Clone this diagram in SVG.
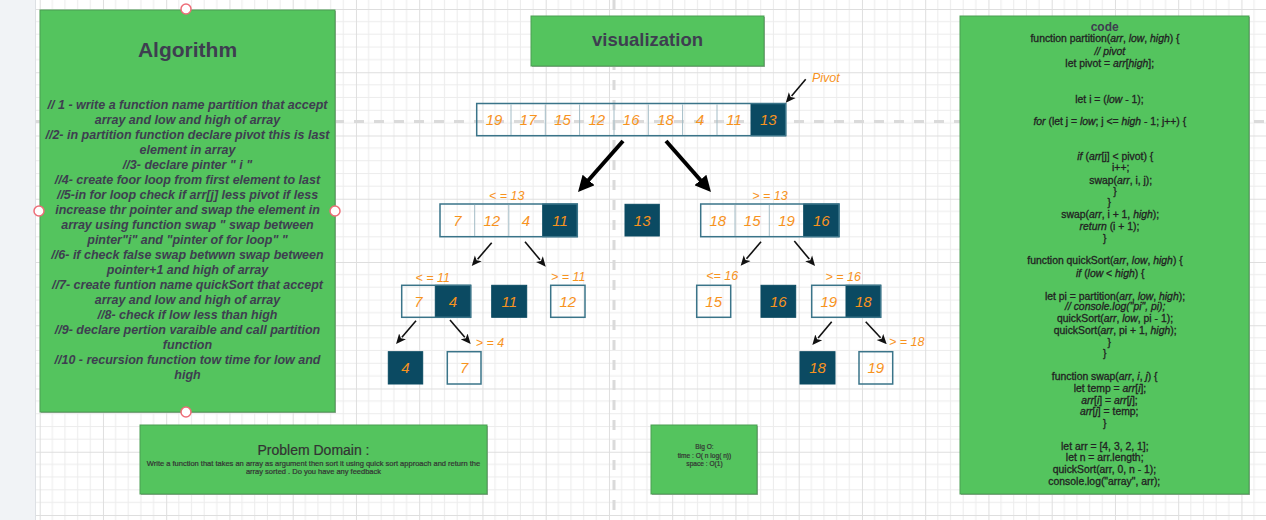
<svg xmlns="http://www.w3.org/2000/svg" width="1266" height="520" viewBox="0 0 1266 520">
<style>
.box{fill:#54c45e;stroke:#4a9e52;stroke-width:1}
.shadow{fill:#a9a9a9}
.alg{font-family:"Liberation Sans",Arial,sans-serif;font-size:12.5px;font-weight:bold;font-style:italic;fill:#3e3e50;text-anchor:middle}
.title{font-family:"Liberation Sans",Arial,sans-serif;font-weight:bold;fill:#3e3e50;text-anchor:middle}
.code{font-family:"Liberation Sans",Arial,sans-serif;font-size:10.4px;fill:#222;stroke:#222;stroke-width:0.3;text-anchor:middle}
.it{font-style:italic}
.num{font-family:"Liberation Sans",Arial,sans-serif;font-size:15px;font-style:italic;fill:#f7931e;text-anchor:middle}
.lbl{font-family:"Liberation Sans",Arial,sans-serif;font-size:12.5px;font-style:italic;fill:#f7931e;text-anchor:middle}
.cell{fill:none;stroke:#3a7489;stroke-width:1.5}
.div{stroke:#a3bcc6;stroke-width:1}
.dark{fill:#0b4a62;stroke:#0b4a62;stroke-width:1}
.big{stroke:#000;stroke-width:4;fill:none}
.thin{stroke:#111;stroke-width:1.6;fill:none}
.handle{fill:#fff;stroke:#ee6d78;stroke-width:1.5}
.small{font-family:"Liberation Sans",Arial,sans-serif;fill:#333;stroke:#333;stroke-width:0.2;text-anchor:middle}
</style>
<defs>
<pattern id="grid" x="39.7" y="9" width="63.25" height="63.25" patternUnits="userSpaceOnUse">
<path d="M12.65 0V63.25M25.3 0V63.25M37.95 0V63.25M50.6 0V63.25M0 12.65H63.25M0 25.3H63.25M0 37.95H63.25M0 50.6H63.25" stroke="#ececec" stroke-width="1" fill="none"/>
<path d="M0.5 0V63.25M0 0.5H63.25" stroke="#dedede" stroke-width="1" fill="none"/>
</pattern>
<marker id="bigArrow" viewBox="0 0 16 16" refX="2" refY="8" markerWidth="16" markerHeight="16" markerUnits="userSpaceOnUse" orient="auto">
<path d="M0,0 L16,8 L0,16 Z" fill="#000"/>
</marker>
<marker id="smallArrow" viewBox="0 0 10 10" refX="1" refY="5" markerWidth="10" markerHeight="10" markerUnits="userSpaceOnUse" orient="auto">
<path d="M0,0.5 L10,5 L0,9.5 L2.5,5 Z" fill="#111"/>
</marker>
</defs>

<rect x="0" y="0" width="1266" height="520" fill="#fff"/>
<rect x="35" y="0" width="1231" height="520" fill="url(#grid)"/>
<rect x="0" y="0" width="35" height="520" fill="#f1f3f6"/>
<line x1="35.5" y1="0" x2="35.5" y2="520" stroke="#dde0e4" stroke-width="1"/>
<line x1="36" y1="121.5" x2="1266" y2="121.5" stroke="#dadada" stroke-width="3" stroke-dasharray="10 10" stroke-dashoffset="2"/>
<line x1="614" y1="0" x2="614" y2="520" stroke="#dadada" stroke-width="3" stroke-dasharray="10 10"/>

<g id="algorithm">
<rect class="shadow" x="41" y="11" width="295" height="402"/>
<rect class="box" x="40" y="10" width="295" height="402"/>
<text class="title" x="187.5" y="57" font-size="21">Algorithm</text>
<text class="alg" x="187.5" y="108.5">// 1 - write a function name partition that accept</text>
<text class="alg" x="187.5" y="123.5">array and low and high of array</text>
<text class="alg" x="187.5" y="138.5">//2- in partition function declare pivot this is last</text>
<text class="alg" x="187.5" y="153.5">element in array</text>
<text class="alg" x="187.5" y="168.5">//3- declare pinter " i "</text>
<text class="alg" x="187.5" y="183.5">//4- create foor loop from first element to last</text>
<text class="alg" x="187.5" y="198.5">//5-in for loop  check if arr[j] less pivot if less</text>
<text class="alg" x="187.5" y="213.5">increase thr pointer and swap the element in</text>
<text class="alg" x="187.5" y="228.5">array using function swap " swap between</text>
<text class="alg" x="187.5" y="243.5">pinter"i" and "pinter of for loop" "</text>
<text class="alg" x="187.5" y="258.5">//6- if check false  swap betwwn  swap between</text>
<text class="alg" x="187.5" y="273.5">pointer+1 and high of array</text>
<text class="alg" x="187.5" y="288.5">//7- create funtion name  quickSort  that accept</text>
<text class="alg" x="187.5" y="303.5">array and low and high of array</text>
<text class="alg" x="187.5" y="318.5">//8- check if low less than high</text>
<text class="alg" x="187.5" y="333.5">//9- declare pertion varaible and call partition</text>
<text class="alg" x="187.5" y="348.5">function</text>
<text class="alg" x="187.5" y="363.5">//10 - recursion function tow time for low and</text>
<text class="alg" x="187.5" y="378.5">high</text>
<circle class="handle" cx="186" cy="9" r="5"/>
<circle class="handle" cx="39" cy="211" r="5"/>
<circle class="handle" cx="335" cy="211" r="5"/>
<circle class="handle" cx="186" cy="412" r="5"/>
</g>

<g id="visualization">
<rect class="shadow" x="532" y="17" width="233" height="50"/>
<rect class="box" x="531" y="16" width="233" height="50"/>
<text class="title" x="647.5" y="45.5" font-size="18.5">visualization</text>
</g>

<g id="problem-domain">
<rect class="shadow" x="141" y="426" width="347" height="69"/>
<rect class="box" x="140" y="425" width="347" height="69"/>
<text class="small" x="313.5" y="455" font-size="14" stroke-width="0.5">Problem Domain :</text>
<text class="small" x="313.5" y="465.5" font-size="7.5">Write a function that takes an array as argument then sort it using quick sort approach and return the</text>
<text class="small" x="313.5" y="473.5" font-size="7.5">array sorted . Do you have any feedback</text>
</g>

<g id="big-o">
<rect class="shadow" x="652" y="426" width="106" height="69"/>
<rect class="box" x="651" y="425" width="106" height="69"/>
<text class="small" x="704.5" y="449" font-size="6.6">Big O:</text>
<text class="small" x="704.5" y="457.5" font-size="6.6">time : O( n log( n))</text>
<text class="small" x="704.5" y="465.5" font-size="6.6">space : O(1)</text>
</g>

<g id="code">
<rect class="shadow" x="961" y="17" width="289" height="478"/>
<rect class="box" x="960" y="16" width="289" height="478"/>
<text class="title" x="1104.7" y="30.5" font-size="12">code</text>
<text class="code" x="1105" y="42.3">function partition(<tspan class="it">arr</tspan>, <tspan class="it">low</tspan>, <tspan class="it">high</tspan>) {</text>
<text class="code it" x="1109.8" y="55.3">// pivot</text>
<text class="code" x="1109.7" y="67">let pivot = <tspan class="it">arr</tspan>[<tspan class="it">high</tspan>];</text>
<text class="code" x="1109.5" y="103">let i = (<tspan class="it">low</tspan> - 1);</text>
<text class="code" x="1109.8" y="125.3"><tspan class="it">for</tspan> (let j = <tspan class="it">low</tspan>; j &lt;= <tspan class="it">high</tspan> - 1; j++) {</text>
<text class="code" x="1115.3" y="160.3"><tspan class="it">if</tspan> (<tspan class="it">arr</tspan>[j] &lt; pivot) {</text>
<text class="code" x="1120.7" y="171">i++;</text>
<text class="code" x="1120.7" y="183.6">swap(<tspan class="it">arr</tspan>, i, j);</text>
<text class="code" x="1115" y="195.3">}</text>
<text class="code" x="1109.3" y="206.3">}</text>
<text class="code" x="1110.2" y="218">swap(<tspan class="it">arr</tspan>, i + 1, <tspan class="it">high</tspan>);</text>
<text class="code" x="1109.5" y="229.6"><tspan class="it">return</tspan> (i + 1);</text>
<text class="code" x="1104.7" y="241.9">}</text>
<text class="code" x="1105" y="264.3">function quickSort(<tspan class="it">arr</tspan>, <tspan class="it">low</tspan>, <tspan class="it">high</tspan>) {</text>
<text class="code" x="1110.3" y="276.6"><tspan class="it">if</tspan> (<tspan class="it">low</tspan> &lt; <tspan class="it">high</tspan>) {</text>
<text class="code" x="1115" y="299.6">let pi = partition(<tspan class="it">arr</tspan>, <tspan class="it">low</tspan>, <tspan class="it">high</tspan>);</text>
<text class="code it" x="1115.2" y="310.3">// console.log("pi", pi);</text>
<text class="code" x="1115" y="321.9">quickSort(<tspan class="it">arr</tspan>, <tspan class="it">low</tspan>, pi - 1);</text>
<text class="code" x="1115.2" y="333.6">quickSort(<tspan class="it">arr</tspan>, pi + 1, <tspan class="it">high</tspan>);</text>
<text class="code" x="1109.3" y="345.9">}</text>
<text class="code" x="1104.7" y="356.9">}</text>
<text class="code" x="1104.7" y="380.3">function swap(<tspan class="it">arr</tspan>, <tspan class="it">i</tspan>, <tspan class="it">j</tspan>) {</text>
<text class="code" x="1110" y="391.9">let temp = <tspan class="it">arr</tspan>[<tspan class="it">i</tspan>];</text>
<text class="code" x="1109.5" y="403.6"><tspan class="it">arr</tspan>[<tspan class="it">i</tspan>] = <tspan class="it">arr</tspan>[<tspan class="it">j</tspan>];</text>
<text class="code" x="1109.2" y="415.3"><tspan class="it">arr</tspan>[<tspan class="it">j</tspan>] = temp;</text>
<text class="code" x="1104.7" y="426.9">}</text>
<text class="code" x="1104.8" y="449.6">let arr = [4, 3, 2, 1];</text>
<text class="code" x="1104.7" y="460.9">let n = arr.length;</text>
<text class="code" x="1104.5" y="472.6">quickSort(arr, 0, n - 1);</text>
<text class="code" x="1104.3" y="484.6">console.log("array", arr);</text>
</g>

<g id="array-top">
<rect class="dark" x="751" y="103.5" width="34.7" height="32.2"/>
<rect class="cell" x="476.7" y="103.5" width="309" height="32.2"/>
<path class="div" d="M511 104.3V135M545.3 104.3V135M579.6 104.3V135M614 104.3V135M648.3 104.3V135M682.6 104.3V135M717 104.3V135"/>
<text class="num" x="494" y="125">19</text>
<text class="num" x="528.2" y="125">17</text>
<text class="num" x="562.5" y="125">15</text>
<text class="num" x="596.8" y="125">12</text>
<text class="num" x="631.2" y="125">16</text>
<text class="num" x="665.5" y="125">18</text>
<text class="num" x="699.8" y="125">4</text>
<text class="num" x="734" y="125">11</text>
<text class="num" x="768.3" y="125">13</text>
</g>
<g id="pivot-label">
<text class="lbl" x="825.8" y="82">Pivot</text>
</g>

<g id="array-left">
<text class="lbl" x="506.7" y="199.5">&lt; = 13</text>
<rect class="dark" x="542.7" y="204" width="34.6" height="32.7"/>
<rect class="cell" x="440" y="204" width="137.3" height="32.7"/>
<path class="div" d="M474.7 204.8V236M508.8 204.8V236"/>
<text class="num" x="457.3" y="225.8">7</text>
<text class="num" x="491.8" y="225.8">12</text>
<text class="num" x="525.8" y="225.8">4</text>
<text class="num" x="560" y="225.8">11</text>
</g>
<g id="pivot-13">
<rect class="dark" x="625" y="204.3" width="34.3" height="31.7"/>
<text class="num" x="642.2" y="225.8">13</text>
</g>
<g id="array-right">
<text class="lbl" x="770" y="199.5">&gt; = 13</text>
<rect class="dark" x="803.7" y="204" width="35.3" height="32.7"/>
<rect class="cell" x="700.7" y="204" width="138.3" height="32.7"/>
<path class="div" d="M735 204.8V236M769.3 204.8V236"/>
<text class="num" x="717.8" y="225.8">18</text>
<text class="num" x="752.2" y="225.8">15</text>
<text class="num" x="786.5" y="225.8">19</text>
<text class="num" x="821.3" y="225.8">16</text>
</g>

<g id="l3-left-pair">
<text class="lbl" x="432.7" y="281.5">&lt; = 11</text>
<rect class="dark" x="435.3" y="285.3" width="35.4" height="32"/>
<rect class="cell" x="401.7" y="285.3" width="69" height="32"/>
<text class="num" x="418.5" y="306.8">7</text>
<text class="num" x="453" y="306.8">4</text>
</g>
<g id="l3-11">
<rect class="dark" x="491.7" y="285.3" width="35" height="32"/>
<text class="num" x="509.2" y="306.8">11</text>
</g>
<g id="l3-12">
<text class="lbl" x="568.3" y="281">&gt; = 11</text>
<rect class="cell" x="550.7" y="285.3" width="34.3" height="32"/>
<text class="num" x="567.8" y="306.8">12</text>
</g>
<g id="l3-15">
<text class="lbl" x="722.3" y="279.5">&lt;= 16</text>
<rect class="cell" x="696.7" y="285.3" width="34" height="32"/>
<text class="num" x="713.7" y="306.8">15</text>
</g>
<g id="l3-16">
<rect class="dark" x="761" y="285.3" width="34.7" height="32"/>
<text class="num" x="778.3" y="306.8">16</text>
</g>
<g id="l3-right-pair">
<text class="lbl" x="843.3" y="281">&gt; = 16</text>
<rect class="dark" x="846" y="285.3" width="34.7" height="32"/>
<rect class="cell" x="811.7" y="285.3" width="69" height="32"/>
<text class="num" x="828.8" y="306.8">19</text>
<text class="num" x="863.3" y="306.8">18</text>
</g>

<g id="l4-4">
<rect class="dark" x="388.3" y="351.7" width="34.4" height="32.3"/>
<text class="num" x="405.5" y="373.3">4</text>
</g>
<g id="l4-7">
<text class="lbl" x="490" y="347">&gt; = 4</text>
<rect class="cell" x="447.3" y="351.7" width="33.7" height="32.3"/>
<text class="num" x="464.2" y="373.3">7</text>
</g>
<g id="l4-18">
<rect class="dark" x="800" y="351.7" width="35" height="32.3"/>
<text class="num" x="817.5" y="373.3">18</text>
</g>
<g id="l4-19">
<text class="lbl" x="906.7" y="346">&gt; = 18</text>
<rect class="cell" x="859" y="351.7" width="33.7" height="32.3"/>
<text class="num" x="875.8" y="373.3">19</text>
</g>

<g id="connectors">
<line class="big" x1="623" y1="141" x2="587.3" y2="181.5" marker-end="url(#bigArrow)"/>
<line class="big" x1="666" y1="141" x2="701.7" y2="181.5" marker-end="url(#bigArrow)"/>
<line class="thin" x1="805.7" y1="79.3" x2="791.6" y2="95.9" stroke-width="1.3" marker-end="url(#smallArrow)"/>
<line class="thin" x1="491.7" y1="242.7" x2="477.6" y2="259.2" marker-end="url(#smallArrow)"/>
<line class="thin" x1="525" y1="241.7" x2="540" y2="259.8" marker-end="url(#smallArrow)"/>
<line class="thin" x1="761" y1="241.7" x2="746.5" y2="258.8" marker-end="url(#smallArrow)"/>
<line class="thin" x1="794.3" y1="241" x2="809.3" y2="259.1" marker-end="url(#smallArrow)"/>
<line class="thin" x1="416" y1="320.7" x2="401.9" y2="337.2" marker-end="url(#smallArrow)"/>
<line class="thin" x1="450" y1="320" x2="464.8" y2="337.2" marker-end="url(#smallArrow)"/>
<line class="thin" x1="831.7" y1="321.7" x2="818.1" y2="338.1" marker-end="url(#smallArrow)"/>
<line class="thin" x1="865.7" y1="321.7" x2="880.6" y2="337.7" marker-end="url(#smallArrow)"/>
</g>
</svg>
